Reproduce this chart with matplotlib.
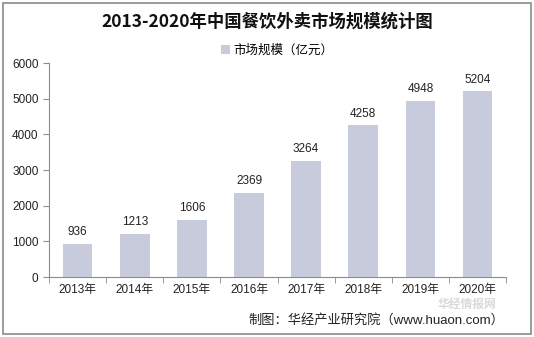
import matplotlib
matplotlib.use("Agg")
import matplotlib.pyplot as plt
from matplotlib.patches import Rectangle

plt.rcParams['font.family'] = ['Liberation Sans', 'Noto Sans CJK SC', 'DejaVu Sans']

years = ['2013年', '2014年', '2015年', '2016年', '2017年', '2018年', '2019年', '2020年']
values = [936, 1213, 1606, 2369, 3264, 4258, 4948, 5204]

bar_color = '#c8cbdb'
axis_color = '#8c8c8c'

fig = plt.figure(figsize=(5.34, 3.37), dpi=100)
ax = fig.add_axes([0.0918, 0.178, 0.856, 0.635])

x = range(len(years))
ax.bar(x, values, width=0.52, color=bar_color, label='市场规模（亿元）', zorder=2)
for xi, v in zip(x, values):
    ax.text(xi, v + 150, str(v), ha='center', va='bottom', fontsize=8.5, color='#222222')

ax.set_xlim(-0.5, len(years) - 0.5)
ax.set_ylim(0, 6000)
ax.set_yticks(range(0, 6001, 1000))
ax.set_xticks(list(x))
ax.set_xticklabels(years, fontsize=8.5)
ax.tick_params(axis='y', labelsize=8.5, colors='#222222', length=4, color=axis_color)
ax.tick_params(axis='x', length=0, pad=5, colors='#222222')
# ticks between categories
ax.set_xticks([i + 0.5 for i in range(-1, len(years))], minor=True)
ax.tick_params(axis='x', which='minor', length=4, color=axis_color)

for s in ['top', 'right']:
    ax.spines[s].set_visible(False)
ax.spines['left'].set_color(axis_color)
ax.spines['bottom'].set_color(axis_color)

fig.text(0.5, 0.935, '2013-2020年中国餐饮外卖市场规模统计图', ha='center', va='center',
         fontsize=12.5, fontweight='bold', color='#111111',
         family=['Noto Sans CJK SC', 'DejaVu Sans'])
ax.legend(loc='upper center', bbox_to_anchor=(0.5, 1.14), frameon=False, fontsize=9,
          handlelength=0.7, handleheight=0.7, handletextpad=0.3)

fig.text(0.945, 0.05, '制图：华经产业研究院（www.huaon.com）', ha='right', va='center',
         fontsize=9.5, color='#222222')
# watermark
fig.text(0.93, 0.098, '华经情报网', ha='right', va='center', fontsize=8.5,
         fontweight='bold', color='#d0d0d0', alpha=0.8,
         family=['Noto Sans CJK SC', 'DejaVu Sans'])

fig.patches.append(Rectangle((0.005, 0.008), 0.99, 0.984, transform=fig.transFigure,
                             fill=False, edgecolor='#8a8a8a', linewidth=1.2))

fig.savefig('out.png', dpi=100)
